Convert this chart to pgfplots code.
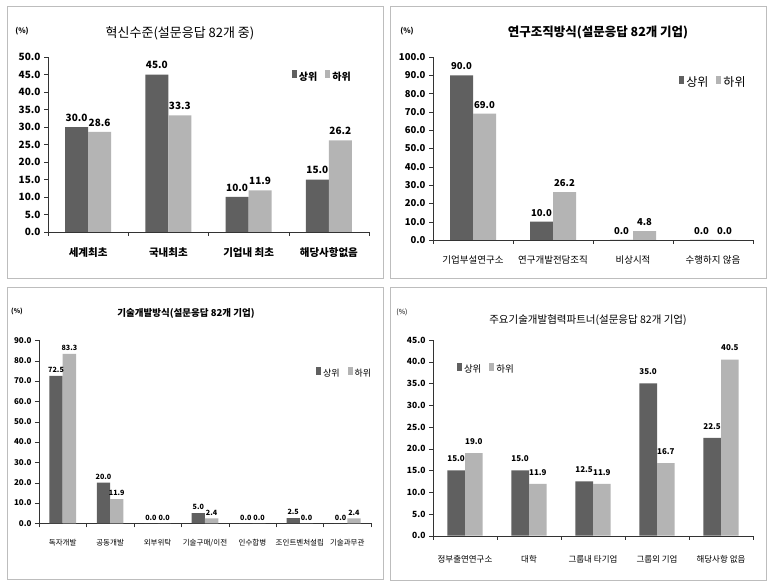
\documentclass[border=0pt]{standalone}
\usepackage{fontspec}
\setmainfont{Noto Sans CJK KR}
\usepackage{pgfplots}
\pgfplotsset{compat=1.18}
\definecolor{dk}{HTML}{606060}
\definecolor{lt}{HTML}{B4B4B4}
\definecolor{frm}{HTML}{BDBDBD}
\pgfplotsset{
  panel/.style={
    scale only axis, ybar=0pt, ymin=0,
    axis x line*=bottom, axis y line*=left,
    axis line style={black!80},
    x tick label as interval,
    tick align=outside, major tick length=4pt,
    tick style={black!80},
    /pgf/number format/assume math mode=true,
    yticklabel style={/pgf/number format/fixed, /pgf/number format/fixed zerofill, /pgf/number format/precision=1, text=black},
    nodes near coords={\pgfmathprintnumber[fixed,fixed zerofill,precision=1]{\pgfplotspointmeta}},
    legend style={draw=none, fill=none, legend columns=2,
      /tikz/every even column/.append style={column sep=6pt}},
    legend image code/.code={\fill[##1] (0pt,-1pt) rectangle (5pt,7pt);},
    clip=false,
  }
}
\begin{document}
\begin{tikzpicture}[x=1pt,y=1pt]
\path[fill=white] (0,0) rectangle (774,582);
% frames
\draw[frm] (7,304) rectangle (383,576);
\draw[frm] (390,304) rectangle (766,576);
\draw[frm] (7,3) rectangle (383,295);
\draw[frm] (390,2) rectangle (766,295);

% Panel 1
\node[font=\fontsize{13}{15}\selectfont] at (180,549) {혁신수준(설문응답 82개 중)};
\node[font=\fontsize{7.5}{9}\selectfont\bfseries] at (22,551) {(\%)};
\begin{axis}[panel, at={(48pt,350pt)}, anchor=south west,
  width=321pt, height=175pt,
  xmin=-0.5, xmax=3.5, ymax=50, ytick={0,5,...,50},
  xtick={-0.5,0.5,1.5,2.5,3.5},
  xticklabels={세계최초,국내최초,기업내 최초,해당사항없음},
  xticklabel style={font=\fontsize{10.5}{12}\selectfont\bfseries, yshift=-8pt},
  yticklabel style={font=\fontsize{10}{12}\selectfont\bfseries},
  every node near coord/.append style={font=\fontsize{10}{12}\selectfont\bfseries, black, yshift=2pt},
  bar width=23pt,
  legend style={at={(0.75,0.886)}, anchor=west, font=\fontsize{10}{12}\selectfont\bfseries},
]
\addplot[fill=dk, draw=none] coordinates {(0,30.0) (1,45.0) (2,10.0) (3,15.0)};
\addplot[fill=lt, draw=none] coordinates {(0,28.6) (1,33.3) (2,11.9) (3,26.2)};
\legend{상위,하위}
\end{axis}

% Panel 2
\node[font=\fontsize{12.5}{14}\selectfont\bfseries] at (598,549) {연구조직방식(설문응답 82개 기업)};
\node[font=\fontsize{7.5}{9}\selectfont\bfseries] at (407,551) {(\%)};
\begin{axis}[panel, at={(433pt,342pt)}, anchor=south west,
  width=320pt, height=183pt,
  xmin=-0.5, xmax=3.5, ymax=100, ytick={0,10,...,100},
  xtick={-0.5,0.5,1.5,2.5,3.5},
  xticklabels={기업부설연구소,연구개발전담조직,비상시적,수행하지 않음},
  xticklabel style={font=\fontsize{9.5}{12}\selectfont, yshift=-8pt},
  yticklabel style={font=\fontsize{9.5}{12}\selectfont\bfseries},
  every node near coord/.append style={font=\fontsize{9.5}{12}\selectfont\bfseries, black, yshift=2pt},
  bar width=23pt,
  legend style={at={(0.76,0.86)}, anchor=west, font=\fontsize{12}{14}\selectfont},
]
\addplot[fill=dk, draw=none] coordinates {(0,90.0) (1,10.0) (2,0.0) (3,0.0)};
\addplot[fill=lt, draw=none] coordinates {(0,69.0) (1,26.2) (2,4.8) (3,0.0)};
\legend{상위,하위}
\end{axis}

% Panel 3
\node[font=\fontsize{9.5}{12}\selectfont\bfseries] at (186,269) {기술개발방식(설문응답 82개 기업)};
\node[font=\fontsize{6.5}{8}\selectfont\bfseries] at (17,271) {(\%)};
\begin{axis}[panel, at={(39pt,58.7pt)}, anchor=south west,
  width=332pt, height=183pt,
  xmin=-0.5, xmax=6.5, ymax=90, ytick={0,10,...,90},
  xtick={-0.5,0.5,1.5,2.5,3.5,4.5,5.5,6.5},
  xticklabels={독자개발,공동개발,외부위탁,기술구매/이전,인수합병,조인트벤처설립,기술과무관},
  xticklabel style={font=\fontsize{7.5}{9}\selectfont, yshift=-8pt},
  yticklabel style={font=\fontsize{8}{10}\selectfont\bfseries},
  every node near coord/.append style={font=\fontsize{7.2}{9}\selectfont\bfseries, black, yshift=2pt, inner sep=1pt},
  bar width=13.3pt,
  legend style={at={(0.825,0.82)}, anchor=west, font=\fontsize{9}{11}\selectfont},
]
\addplot[fill=dk, draw=none] coordinates {(0,72.5) (1,20.0) (2,0.0) (3,5.0) (4,0.0) (5,2.5) (6,0.0)};
\addplot[fill=lt, draw=none] coordinates {(0,83.3) (1,11.9) (2,0.0) (3,2.4) (4,0.0) (5,0.0) (6,2.4)};
\legend{상위,하위}
\end{axis}

% Panel 4
\node[font=\fontsize{10.5}{12}\selectfont] at (588,262) {주요기술개발협력파트너(설문응답 82개 기업)};
\node[font=\fontsize{7}{9}\selectfont] at (402,270) {(\%)};
\begin{axis}[panel, at={(433pt,46.3pt)}, anchor=south west,
  width=320pt, height=195.7pt,
  xmin=-0.5, xmax=4.5, ymax=45, ytick={0,5,...,45},
  xtick={-0.5,0.5,1.5,2.5,3.5,4.5},
  xticklabels={정부출연연구소,대학,그룹내 타기업,그룹외 기업,해당사항 없음},
  xticklabel style={font=\fontsize{8.5}{10}\selectfont, yshift=-12pt},
  yticklabel style={font=\fontsize{8.5}{10}\selectfont\bfseries},
  every node near coord/.append style={font=\fontsize{8}{10}\selectfont\bfseries, black, yshift=5pt},
  bar width=17.7pt,
  legend style={at={(0.065,0.85)}, anchor=west, font=\fontsize{9.5}{11}\selectfont},
]
\addplot[fill=dk, draw=none] coordinates {(0,15.0) (1,15.0) (2,12.5) (3,35.0) (4,22.5)};
\addplot[fill=lt, draw=none] coordinates {(0,19.0) (1,11.9) (2,11.9) (3,16.7) (4,40.5)};
\legend{상위,하위}
\end{axis}
\end{tikzpicture}
\end{document}
